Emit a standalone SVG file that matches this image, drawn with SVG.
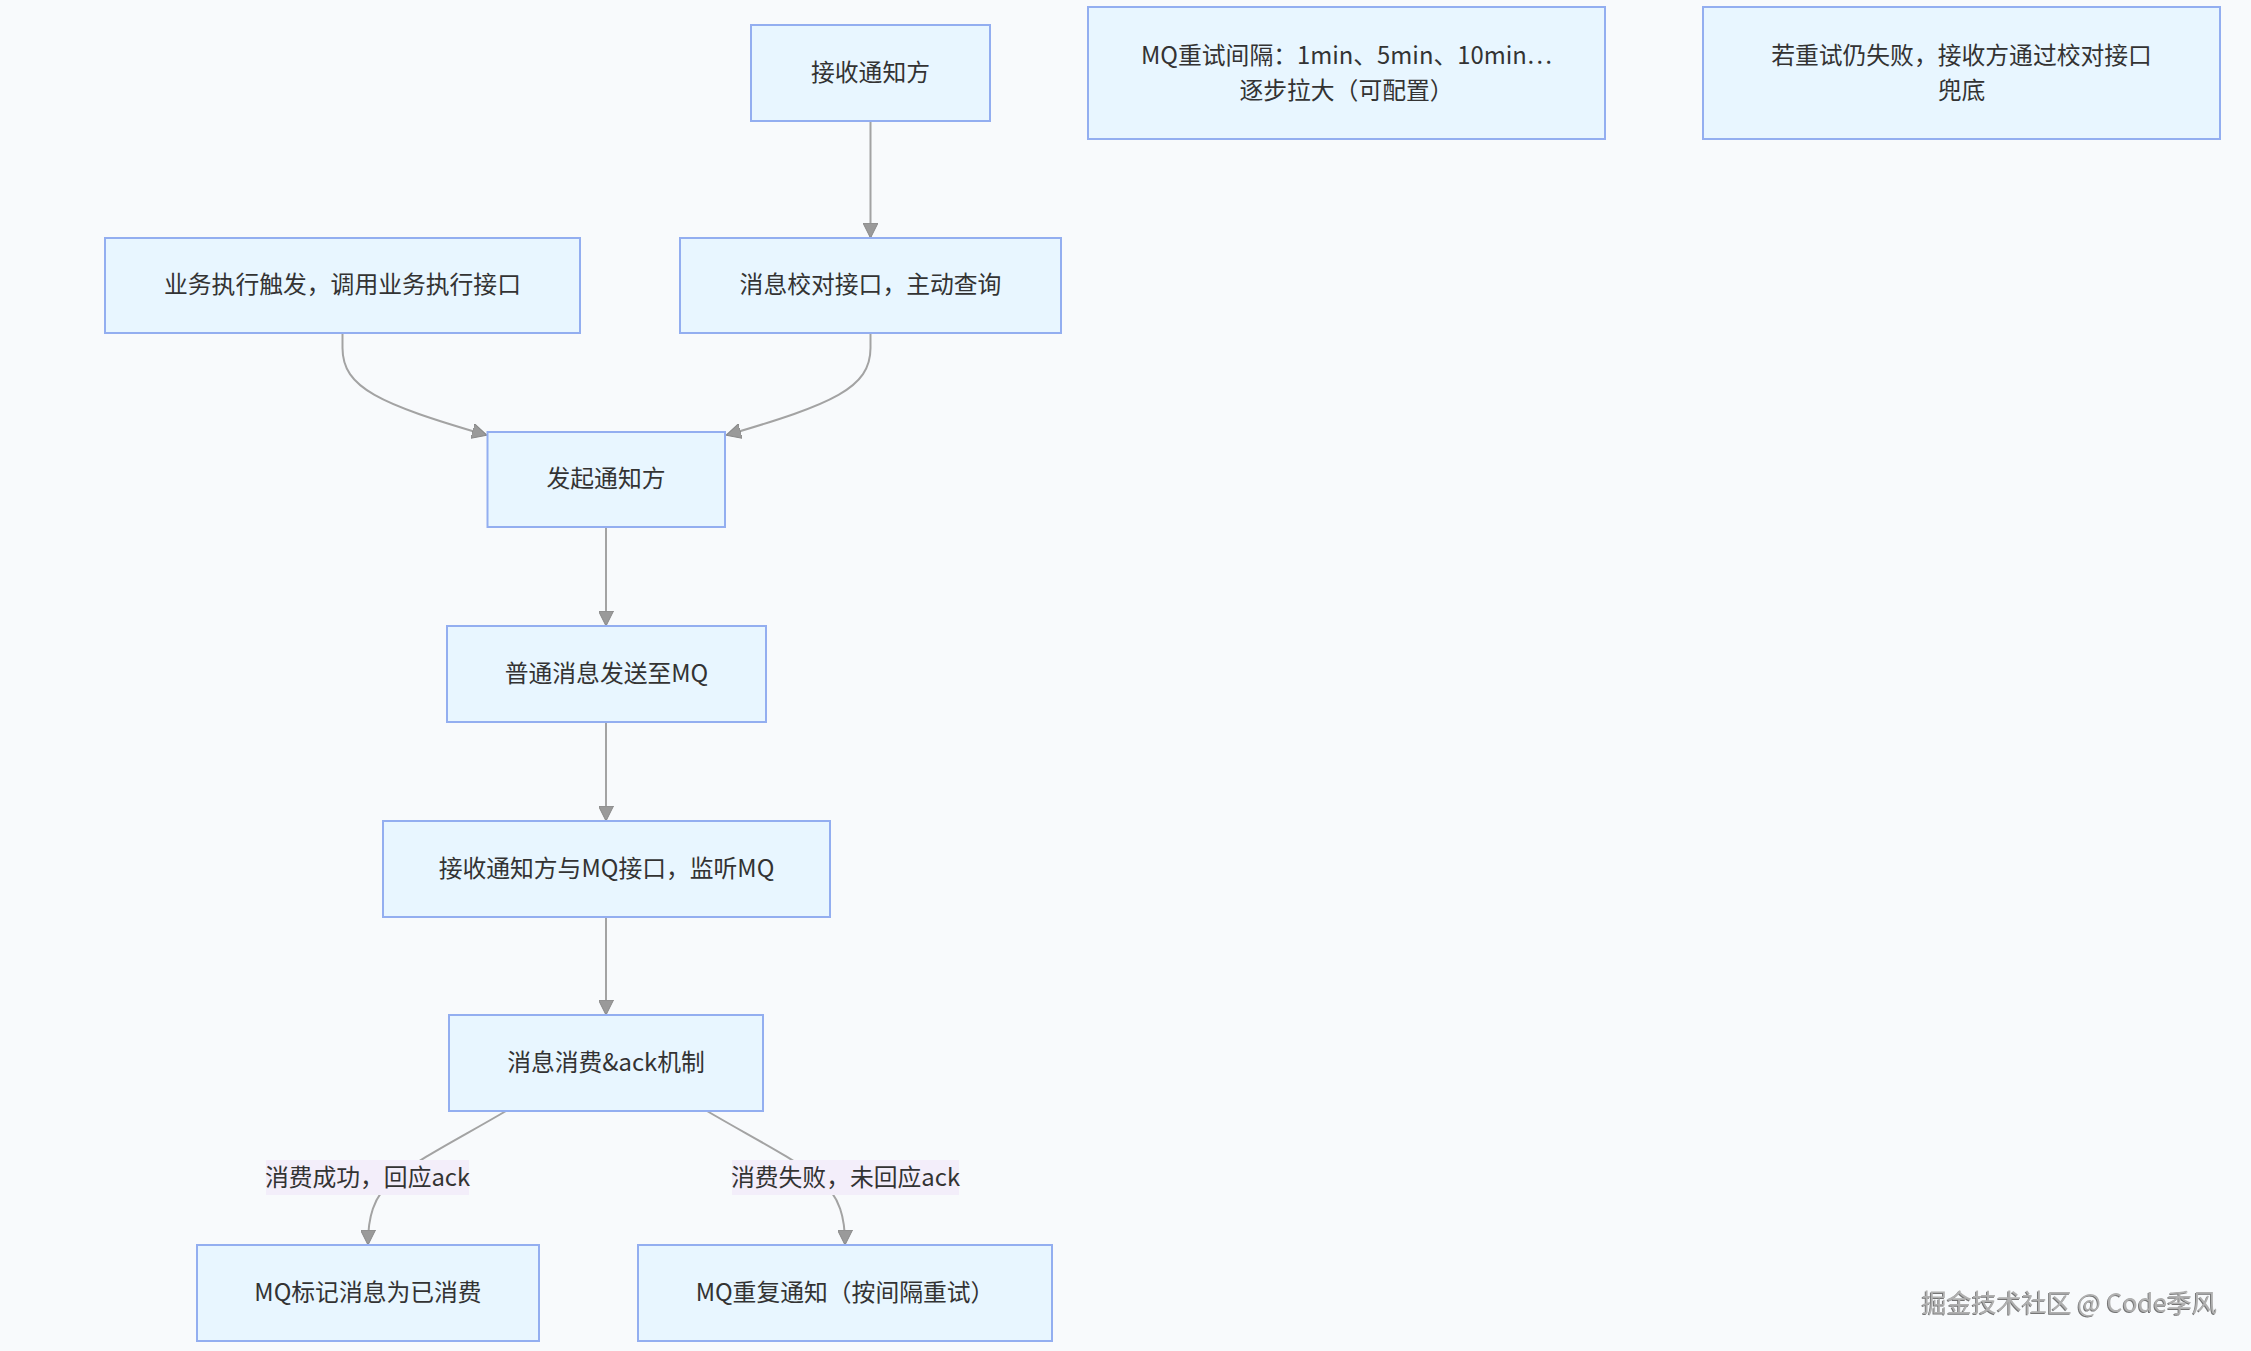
<svg xmlns="http://www.w3.org/2000/svg" width="2251" height="1351" viewBox="0 0 2251 1351">
<defs>
<style>
.node rect{fill:#e8f6ff;stroke:#93aef0;stroke-width:2}
.node text,.elabel text{font-family:"Noto Sans CJK SC","Noto Sans",sans-serif;font-size:23.8px;fill:#333;text-anchor:middle;dominant-baseline:central}
.edge{fill:none;stroke:#a3a3a3;stroke-width:2;marker-end:url(#arr)}
.elabel rect{fill:#f3eefa;stroke:none}
.wm{font-family:"Noto Sans CJK SC","Noto Sans",sans-serif;font-size:25px;fill:#b0b0b0;filter:url(#emb)}
</style>
<marker id="arr" viewBox="0 0 15 15" refX="14" refY="7.5" markerWidth="15" markerHeight="15" markerUnits="userSpaceOnUse" orient="auto">
<path d="M0,0 L15,7.5 L0,15 Z" fill="#9a9a9a" stroke="#888" stroke-width="1"/>
</marker>
<filter id="emb" x="-5%" y="-20%" width="110%" height="140%">
<feDropShadow dx="-1" dy="1" stdDeviation="0.4" flood-color="#555" flood-opacity="0.8"/>
</filter>
</defs>
<rect x="0" y="0" width="2251" height="1351" fill="#f8fafc"/>

<g id="connectors">
<path class="edge" d="M870.5,121 L870.5,237"/>
<path class="edge" d="M342.5,333 L342.5,348 C342.5,388 380,404 486,435"/>
<path class="edge" d="M870.5,333 L870.5,348 C870.5,388 833,404 727,435"/>
<path class="edge" d="M606,527 L606,625"/>
<path class="edge" d="M606,722 L606,820"/>
<path class="edge" d="M606,917 L606,1014"/>
<path class="edge" d="M506,1111 C460,1138 420,1158 395,1178 C372,1196 368,1220 368,1244"/>
<path class="edge" d="M707,1111 C753,1138 793,1158 818,1178 C841,1196 845,1220 845,1244"/>
</g>

<g id="edge-labels">
<g class="elabel" id="label-success"><rect x="266" y="1160" width="203" height="35"/><text x="367.5" y="1175.5">消费成功，回应ack</text></g>
<g class="elabel" id="label-fail"><rect x="732" y="1160" width="227" height="35"/><text x="845.5" y="1175.5">消费失败，未回应ack</text></g>
</g>

<g class="node" id="n-receiver"><rect x="751" y="25" width="239" height="96"/><text x="870.5" y="70">接收通知方</text></g>
<g class="node" id="n-biz"><rect x="105" y="238" width="475" height="95"/><text x="342.5" y="282.5">业务执行触发，调用业务执行接口</text></g>
<g class="node" id="n-check"><rect x="680" y="238" width="381" height="95"/><text x="870.5" y="282.5">消息校对接口，主动查询</text></g>
<g class="node" id="n-sender"><rect x="487.5" y="432" width="237.5" height="95"/><text x="606" y="476.5">发起通知方</text></g>
<g class="node" id="n-send-mq"><rect x="447" y="626" width="319" height="96"/><text x="606.5" y="671">普通消息发送至MQ</text></g>
<g class="node" id="n-listen"><rect x="383" y="821" width="447" height="96"/><text x="606.5" y="866">接收通知方与MQ接口，监听MQ</text></g>
<g class="node" id="n-ack"><rect x="449" y="1015" width="314" height="96"/><text x="606" y="1060">消息消费&amp;ack机制</text></g>
<g class="node" id="n-consumed"><rect x="197" y="1245" width="342" height="96"/><text x="368" y="1290">MQ标记消息为已消费</text></g>
<g class="node" id="n-retry"><rect x="638" y="1245" width="414" height="96"/><text x="845" y="1290">MQ重复通知（按间隔重试）</text></g>
<g class="node" id="n-interval"><rect x="1088" y="7" width="517" height="132"/><text x="1346.5" y="53.5">MQ重试间隔：1min、5min、10min…</text><text x="1346.5" y="88.5">逐步拉大（可配置）</text></g>
<g class="node" id="n-fallback"><rect x="1703" y="7" width="517" height="132"/><text x="1961.5" y="53.5">若重试仍失败，接收方通过校对接口</text><text x="1961.5" y="88.5">兜底</text></g>

<text class="wm" x="2217" y="1312" text-anchor="end">掘金技术社区 @ Code季风</text>
</svg>
